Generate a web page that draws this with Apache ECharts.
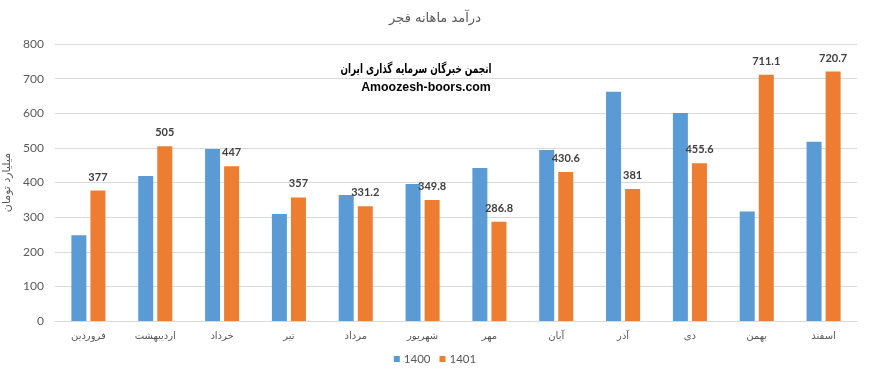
<!DOCTYPE html>
<html><head><meta charset="utf-8">
<script src="https://cdn.jsdelivr.net/npm/echarts@6/dist/echarts.min.js"></script>
<style>html,body{margin:0;padding:0;background:#fff}#c{width:870px;height:379px}</style>
</head><body><div id="c"></div>
<script>
const months = ['فروردین','اردیبهشت','خرداد','تیر','مرداد','شهریور','مهر','آبان','آذر','دی','بهمن','اسفند'];
const s1400 = [248, 419, 497, 309, 364, 396, 442, 494, 662, 601, 316, 518];
const s1401 = [377, 505, 447, 357, 331.2, 349.8, 286.8, 430.6, 381, 455.6, 711.1, 720.7];
const yTicks = [0, 100, 200, 300, 400, 500, 600, 700, 800];
const FONT = "Lato, 'DejaVu Sans', sans-serif";
const chart = echarts.init(document.getElementById('c'), null, {renderer:'canvas'});
chart.setOption({
  animation:false,
  textStyle:{fontFamily:FONT},
  title:{text:'درآمد ماهانه فجر', left:'center', top:7,
    textStyle:{fontFamily:"'DejaVu Sans', sans-serif", fontSize:13, fontWeight:'normal', color:'#595959'}},
  legend:{bottom:9, left:'center', itemWidth:6, itemHeight:6, itemGap:9, icon:'rect',
    textStyle:{fontSize:11.5, color:'#595959', padding:[0,0,0,-1]}},
  grid:{left:55, right:13, top:44, bottom:58, containLabel:false, outerBoundsMode:'none'},
  xAxis:{type:'category', data:months,
    axisLine:{lineStyle:{color:'#d9d9d9'}}, axisTick:{show:false},
    axisLabel:{color:'#595959', fontSize:10, margin:10, fontFamily:"'DejaVu Sans', sans-serif"}},
  yAxis:{type:'value', min:yTicks[0], max:yTicks[yTicks.length-1], interval:100,
    name:'میلیارد تومان', nameLocation:'middle', nameGap:42,
    nameTextStyle:{color:'#595959', fontSize:11, fontFamily:"'DejaVu Sans', sans-serif"},
    axisLine:{show:false}, axisTick:{show:false},
    axisLabel:{color:'#595959', fontSize:12, margin:11},
    splitLine:{lineStyle:{color:'#d9d9d9'}}},
  series:[
    {name:'1400', type:'bar', data:s1400, barWidth:15, barGap:'27%', itemStyle:{color:'#5B9BD5'}},
    {name:'1401', type:'bar', data:s1401, barWidth:15, itemStyle:{color:'#ED7D31'},
      label:{show:true, position:'top', distance:8, fontSize:11, fontWeight:'bold', color:'#404040'}}
  ],
  graphic:[
    {type:'text', x:416, y:70, scaleX:0.68, style:{text:'انجمن خبرگان سرمایه گذاری ایران', fill:'#000',
      align:'center', verticalAlign:'middle', textAlign:'center', textVerticalAlign:'middle',
      font:"bold 13px 'DejaVu Sans', sans-serif"}},
    {type:'text', x:426, y:87, scaleX:0.95, style:{text:'Amoozesh-boors.com', fill:'#000',
      align:'center', verticalAlign:'middle', textAlign:'center', textVerticalAlign:'middle',
      font:"bold 13px 'Liberation Sans', sans-serif"}}
  ]
});
</script></body></html>
